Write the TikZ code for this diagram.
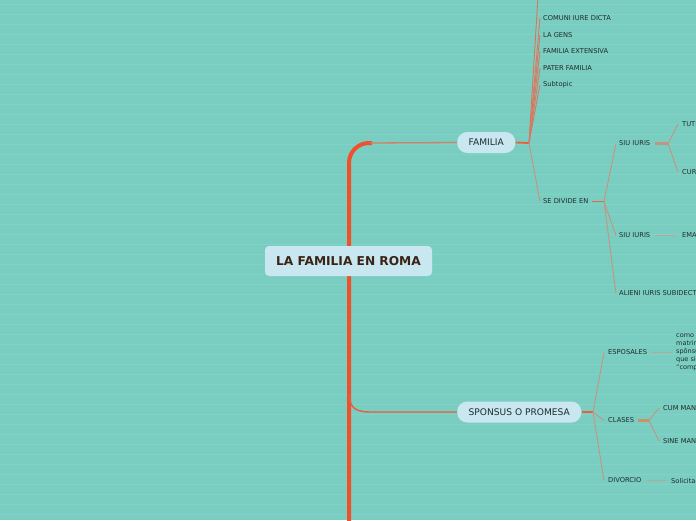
\documentclass[tikz,border=0pt]{standalone}
\usepackage{fontspec}
\setmainfont{DejaVu Sans}
\definecolor{bg}{HTML}{7ACEC1}
\definecolor{stripe}{HTML}{83D2C6}
\definecolor{trunk}{HTML}{F0502C}
\definecolor{pill}{HTML}{C8E7F1}
\definecolor{roottxt}{HTML}{3A2315}
\definecolor{txt}{HTML}{1F2B2B}
\definecolor{twig}{HTML}{C8927F}
\definecolor{stub}{HTML}{E8603F}
\definecolor{brownstub}{HTML}{C39482}
\definecolor{leafline}{HTML}{B6A996}
\tikzset{
  rootbox/.style={fill=pill, rounded corners=4pt, minimum width=167pt, minimum height=30pt,
    text=roottxt, font=\fontsize{12.2}{14}\selectfont\bfseries, inner sep=0pt},
  pillbox/.style={fill=pill, rounded corners=10pt, minimum height=21pt, inner xsep=11.5pt,
    inner ysep=0pt, text=txt, font=\fontsize{9.1}{10}\selectfont, anchor=west},
  leaf/.style={anchor=west, inner sep=0pt, text=txt, font=\fontsize{6.7}{8}\selectfont},
  twigline/.style={draw=twig, line width=0.9pt},
  stubline/.style={draw=stub, line width=1.8pt},
  brownline/.style={draw=brownstub, line width=2.4pt},
  grayline/.style={draw=leafline, line width=1.8pt},
}
\begin{document}
\begin{tikzpicture}[x=1pt,y=-1pt]
\useasboundingbox (0,0) rectangle (696,520);
\clip (0,0) rectangle (696,520);
\fill[bg] (0,0) rectangle (696,520);
\foreach \y in {4,14,...,514} \draw[stripe, line width=0.9pt] (0,\y) -- (696,\y);

% trunk
\draw[trunk, line width=4pt, rounded corners=20pt] (372,143) -- (349,143) -- (349,540) -- (380,540);

% main nodes
\node[rootbox] (root) at (348.5,261) {LA FAMILIA EN ROMA};
\node[pillbox] (familia) at (457,142.5) {FAMILIA};
\node[pillbox] (sponsus) at (457,412) {SPONSUS O PROMESA};

% branches from trunk
\draw[line width=1.3pt, color=twig!70!trunk] (370,143) -- (familia.west);
\coordinate (sbend) at (349.5,394);
\draw[line width=1.4pt, color=trunk!80!twig] (sbend) .. controls (349.5,409) and (356,412) .. (372,412) -- (sponsus.west);

% FAMILIA children
\coordinate (jf) at (529,143);
\coordinate (jtop) at (538.5,-12);
\node[leaf] (comuni) at (543,18) {COMUNI IURE DICTA};
\node[leaf] (gens) at (543,35) {LA GENS};
\node[leaf] (extensiva) at (543,51.5) {FAMILIA EXTENSIVA};
\node[leaf] (pater) at (543,68) {PATER FAMILIA};
\node[leaf] (subtopic) at (543,84.5) {Subtopic};
\node[leaf] (divide) at (543,201.5) {SE DIVIDE EN};
\draw[stubline] (familia.east) -- (jf);
\draw[twigline, draw=stub!60!twig] (jf) -- (jtop);
\foreach \n in {comuni,gens,extensiva,pater,subtopic}
  \draw[twigline, draw=stub!45!twig] (jf) -- ([xshift=-3pt]\n.west);
\draw[twigline] (jf) -- ([xshift=-3pt]divide.west);

% SE DIVIDE EN children
\coordinate (jd) at (604,201.5);
\node[leaf] (siu1) at (619,143.5) {SIU IURIS};
\node[leaf] (siu2) at (619,235.5) {SIU IURIS};
\node[leaf] (alieni) at (619,293.5) {ALIENI IURIS SUBIDECTO};
\draw[stubline, draw=stub!80!twig] ([xshift=4pt]divide.east) -- (jd);
\foreach \n in {siu1,siu2,alieni}
  \draw[twigline] (jd) -- ([xshift=-3pt]\n.west);

% SIU IURIS 1 children
\coordinate (js) at (668,143.5);
\node[leaf] (tute) at (682,124) {TUTEL};
\node[leaf] (cura) at (682,172) {CURAT};
\draw[brownline] ([xshift=5pt]siu1.east) -- (js);
\draw[twigline] (js) -- ([xshift=-4pt]tute.west);
\draw[twigline] (js) -- ([xshift=-4pt]cura.west);

% SIU IURIS 2 child
\node[leaf] (ema) at (682,235.5) {EMAN};
\draw[grayline, line width=1.4pt] ([xshift=5pt]siu2.east) -- ([xshift=-5pt]ema.west);

% SPONSUS children
\coordinate (jp) at (593,412);
\node[leaf] (esposales) at (608,352.5) {ESPOSALES};
\node[leaf] (clases) at (608,420.5) {CLASES};
\node[leaf] (divorcio) at (608,480.5) {DIVORCIO};
\draw[stubline] (sponsus.east) -- (jp);
\foreach \n in {esposales,clases,divorcio}
  \draw[twigline] (jp) -- ([xshift=-4pt]\n.west);

% ESPOSALES child
\node[leaf, align=left, font=\fontsize{6.5}{8}\selectfont] (como) at (676,352.5) {como\\matrimo\\spônsu\\que sie\\``compr};
\draw[grayline] ([xshift=4pt]esposales.east) -- ([xshift=-4pt]como.west);

% CLASES children
\coordinate (jc) at (649,420.5);
\node[leaf] (cum) at (663,408) {CUM MANU};
\node[leaf] (sine) at (663,441) {SINE MANU};
\draw[brownline, draw=brownstub!80!orange] ([xshift=4pt]clases.east) -- (jc);
\draw[twigline] (jc) -- ([xshift=-4pt]cum.west);
\draw[twigline] (jc) -- ([xshift=-4pt]sine.west);

% DIVORCIO child
\node[leaf] (solicita) at (671,480.5) {Solicitad};
\draw[grayline] ([xshift=5pt]divorcio.east) -- ([xshift=-4pt]solicita.west);
\end{tikzpicture}
\end{document}
